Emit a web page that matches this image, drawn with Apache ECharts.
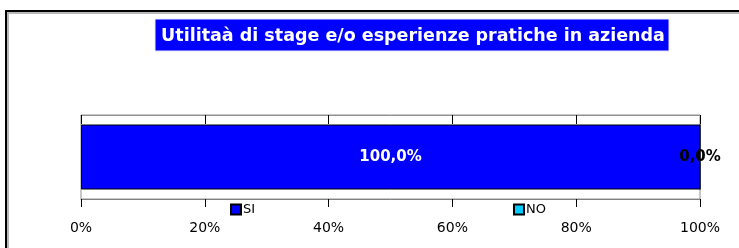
<!DOCTYPE html>
<html>
<head>
<meta charset="utf-8">
<script src="https://cdn.jsdelivr.net/npm/echarts@6/dist/echarts.min.js"></script>
<style>
  html, body { margin: 0; padding: 0; background: #fff; overflow: hidden; }
  #wrap { position: relative; width: 739px; height: 248px; overflow: hidden; }
  #chart { width: 739px; height: 248px; }
  /* outer frame of the original sheet, only left and top edges in view */
  #frame {
    position: absolute; left: 5px; top: 10px; width: 760px; height: 260px;
    border-left: 2px solid #000; border-top: 2px solid #000;
    box-shadow: inset 2px 2px 0 #b8b8b8;
    pointer-events: none;
  }
</style>
</head>
<body>
<div id="wrap">
  <div id="chart"></div>
  <div id="frame"></div>
</div>
<script>
const titleText = 'Utilitaà di stage e/o esperienze pratiche in azienda'
const categories = ['']
const seriesNames = ['SI', 'NO']
const siValues = [100.0]
const noValues = [0.0]
const xTicks = [0, 20, 40, 60, 80, 100]

const font = '"DejaVu Sans", "Liberation Sans", sans-serif'

const chart = echarts.init(document.getElementById('chart'), null, { renderer: 'canvas' })

const pctLabel = (p) => p.value.toFixed(1).replace('.', ',') + '%'

chart.setOption({
  animation: false,
  graphic: [
    {
      type: 'rect',
      shape: { x: 155, y: 19, width: 514, height: 32 },
      style: { fill: '#0000ff', stroke: '#e8e8ff', lineWidth: 1 }
    },
    {
      type: 'text',
      x: 413,
      y: 36,
      style: {
        text: titleText,
        fill: '#fff',
        font: 'bold 17.5px ' + font,
        textAlign: 'center',
        textVerticalAlign: 'middle'
      }
    }
  ],
  legend: [
    {
      data: [seriesNames[0]],
      left: 230,
      top: 203,
      itemWidth: 10,
      itemHeight: 10,
      itemGap: 4,
      padding: 0,
      icon: 'rect',
      textStyle: { color: '#000', fontSize: 13, fontFamily: font, padding: [0, 0, 0, -3] }
    },
    {
      data: [seriesNames[1]],
      left: 513,
      top: 203,
      itemWidth: 10,
      itemHeight: 10,
      padding: 0,
      icon: 'rect',
      textStyle: { color: '#000', fontSize: 13, fontFamily: font, padding: [0, 0, 0, -3] }
    }
  ],
  grid: {
    left: 81,
    right: 39,
    top: 115,
    bottom: 49,
    show: true,
    borderColor: '#909090',
    borderWidth: 1,
    backgroundColor: 'transparent'
  },
  xAxis: [
    {
      type: 'value',
      min: 0,
      max: 100,
      interval: 20,
      position: 'bottom',
      axisLine: { show: true, lineStyle: { color: '#808080', width: 1 } },
      axisTick: { show: true, length: 8, lineStyle: { color: '#000' } },
      splitLine: { show: false },
      axisLabel: {
        margin: 22,
        color: '#000',
        fontSize: 14,
        fontFamily: font,
        formatter: (v) => v + '%',
        customValues: xTicks
      }
    },
    {
      type: 'value',
      min: 0,
      max: 100,
      interval: 20,
      position: 'top',
      axisLine: { show: true, lineStyle: { color: '#909090', width: 1 } },
      axisTick: { show: true, inside: true, length: 9, lineStyle: { color: '#000' } },
      axisLabel: { show: false },
      splitLine: { show: false }
    }
  ],
  yAxis: {
    type: 'category',
    data: categories,
    axisLine: { show: false },
    axisTick: { show: false },
    axisLabel: { show: false }
  },
  series: [
    {
      name: seriesNames[0],
      type: 'bar',
      stack: 'tot',
      data: siValues,
      barWidth: 65,
      itemStyle: { color: '#0000ff', borderColor: '#000', borderWidth: 1 },
      label: {
        show: true,
        position: 'inside',
        color: '#fff',
        fontWeight: 'bold',
        fontSize: 15,
        fontFamily: font,
        formatter: pctLabel
      }
    },
    {
      name: seriesNames[1],
      type: 'bar',
      stack: 'tot',
      data: noValues,
      barWidth: 65,
      itemStyle: { color: '#00ccff', borderColor: '#000', borderWidth: 1 },
      label: {
        show: true,
        position: 'inside',
        color: '#000',
        fontWeight: 'bold',
        fontSize: 15,
        fontFamily: font,
        formatter: pctLabel
      }
    }
  ]
})
</script>
</body>
</html>
